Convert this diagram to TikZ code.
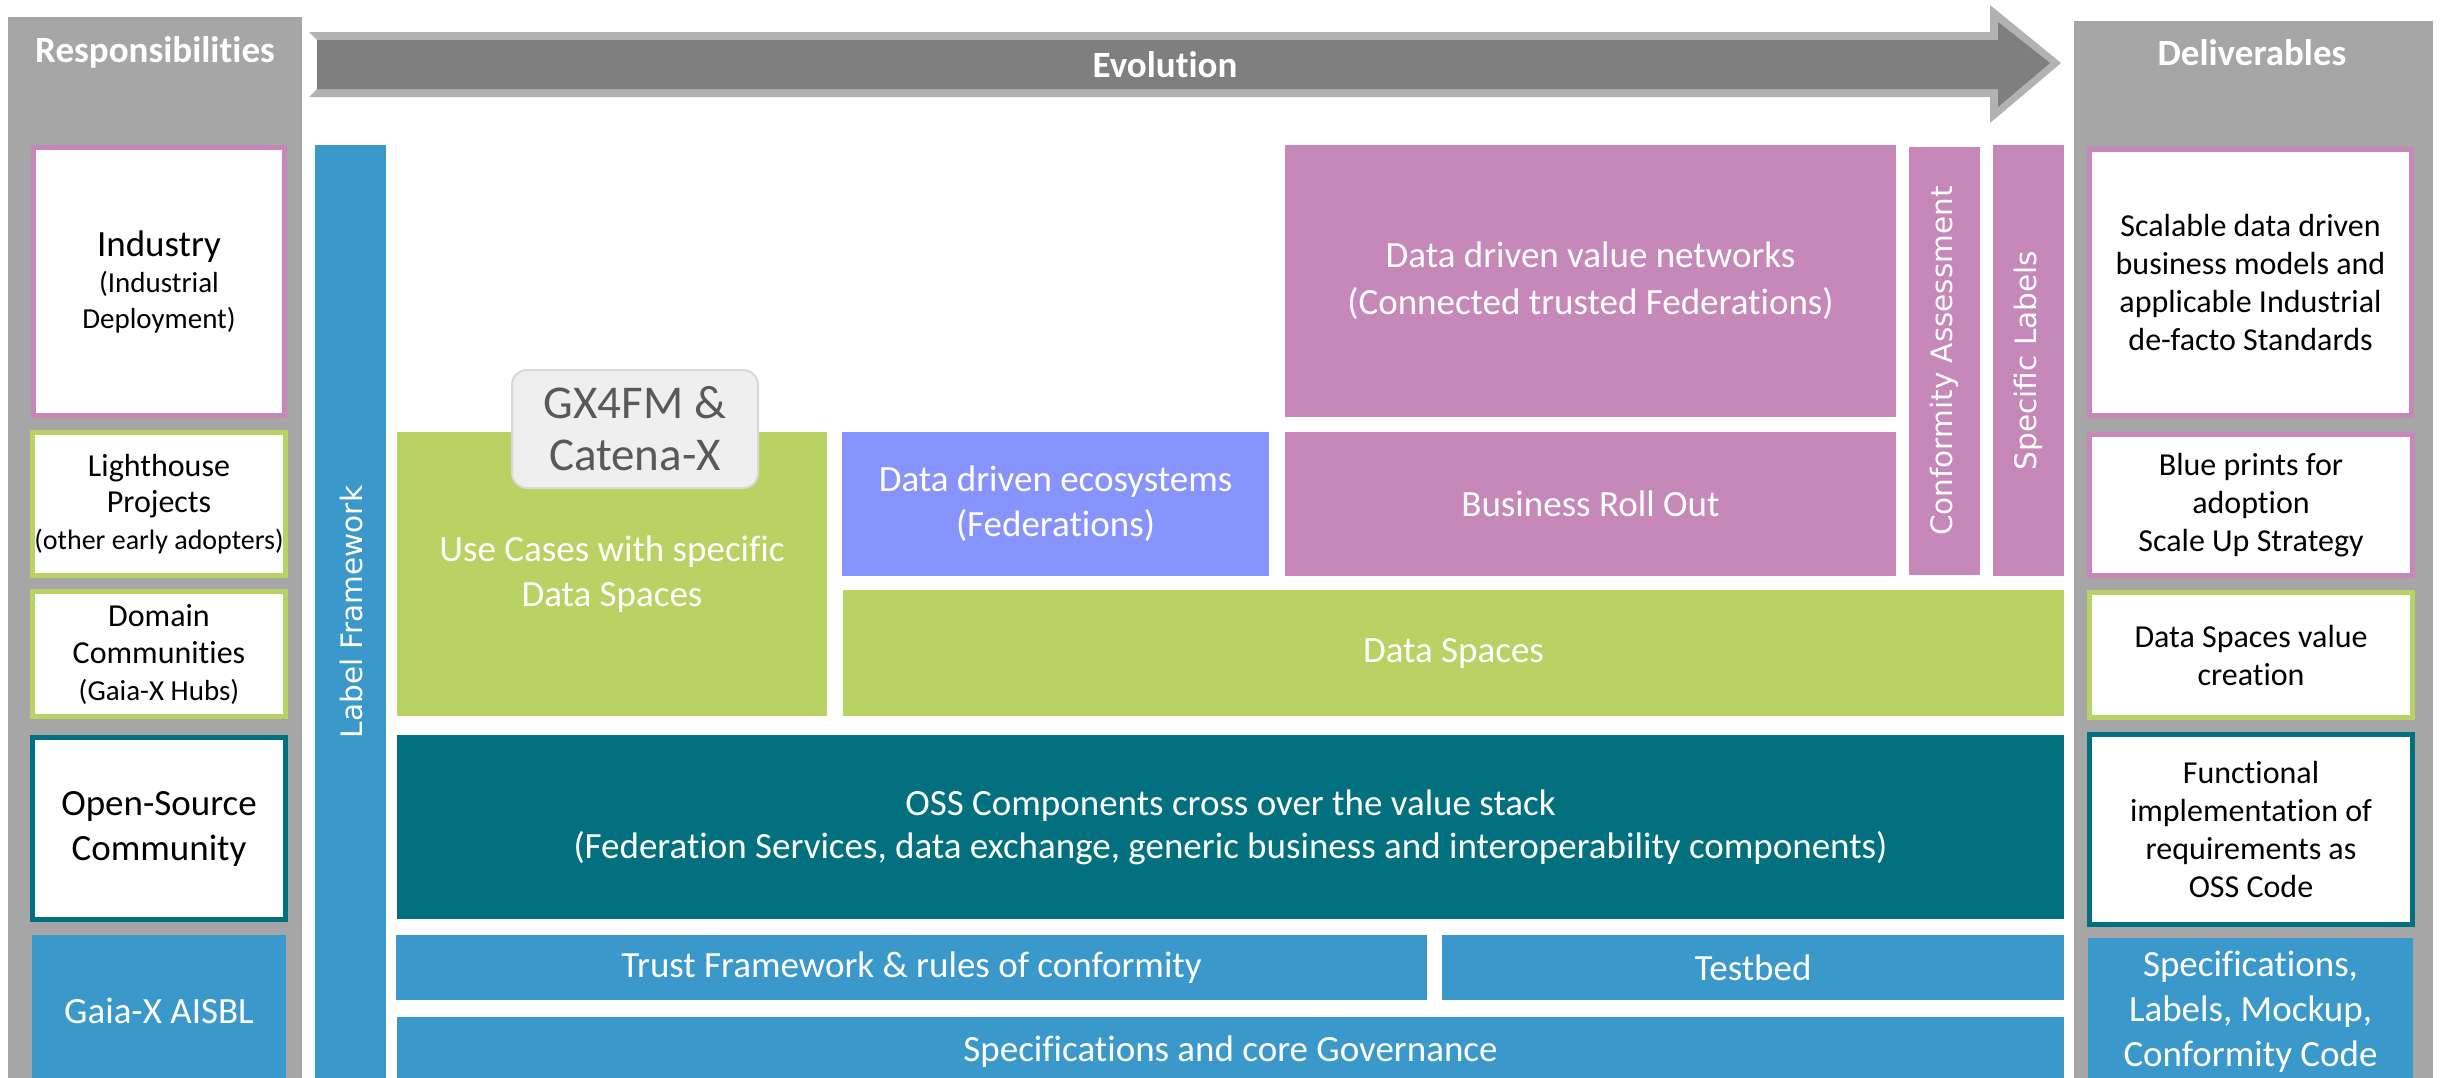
\documentclass[tikz,border=0pt]{standalone}
\usepackage{fontspec}
\setmainfont{Carlito}[Ligatures={NoCommon}]
\newfontfamily\rotfont{DejaVu Sans}
\definecolor{colgray}{HTML}{A6A6A6}
\definecolor{blueC}{HTML}{3B98CB}
\definecolor{greenC}{HTML}{B8D263}
\definecolor{pinkC}{HTML}{C688B8}
\definecolor{periC}{HTML}{8794FE}
\definecolor{tealC}{HTML}{02707E}
\definecolor{arrowlight}{HTML}{B2B2B2}
\definecolor{arrowdark}{HTML}{7F7F7F}
\definecolor{gxfill}{HTML}{EFEFEF}
\definecolor{gxdraw}{HTML}{D9D9D9}
\definecolor{gxtext}{HTML}{595959}
\newcommand\fs[2]{\fontsize{#1}{#2}\selectfont}
% name x1 y1 x2 y2 style text
\newcommand\blockbox[7]{%
  \node[#6, minimum width={(#4-#2)*1pt}, minimum height={(#5-#3)*1pt}] (#1) at ({(#2+#4)/2},{(#3+#5)/2}) {#7};}
\newcommand\edgebox[7]{%
  \node[#6, minimum width={(#4-#2-5)*1pt}, minimum height={(#5-#3-5)*1pt}] (#1) at ({(#2+#4)/2},{(#3+#5)/2}) {#7};}
\tikzset{
  fillbox/.style={fill=#1, draw=none, inner sep=0pt, outer sep=0pt, text=white, align=center, font=\fs{37}{45}},
  whitebox/.style={fill=white, draw=#1, line width=5pt, inner sep=0pt, outer sep=0pt, text=black, align=center},
  rottext/.style={rotate=90, text=white, inner sep=0pt, font=\rotfont\fs{29.5}{36}},
  headtext/.style={text=white, inner sep=0pt, font=\bfseries\fs{37}{45}},
}
\begin{document}
\begin{tikzpicture}[x=1pt,y=-1pt]
\useasboundingbox (0,0) rectangle (2440,1077);
\clip (0,0) rectangle (2440,1077);
\fill[white] (0,0) rectangle (2440,1077);

% gray columns
\blockbox{leftcol}{8}{17}{302}{1090}{fillbox=colgray}{}
\blockbox{rightcol}{2074}{21}{2433}{1090}{fillbox=colgray}{}
\node[headtext, anchor=base] (resp) at (155,62) {Responsibilities};
\node[headtext, anchor=base] (deliv) at (2252,65) {Deliverables};

% evolution arrow
\fill[arrowlight] (309,32) -- (1990,32) -- (1990,5) -- (2061,63) -- (1990,123) -- (1990,97) -- (309,97) -- (317,89) -- (317,40) -- cycle;
\fill[arrowdark] (317,40) -- (1998,40) -- (1998,22) -- (2050,63) -- (1998,107) -- (1998,89) -- (317,89) -- cycle;
\node[headtext] (evo) at (1165,65) {Evolution};

% left responsibility boxes
\edgebox{industry}{31}{145}{287}{418}{whitebox=pinkC, font=\fs{29}{36}}{\fs{37}{44}Industry\\(Industrial\\Deployment)}
\edgebox{lighthouse}{30}{430}{288}{578}{whitebox=greenC, font=\fs{32}{36.5}}{Lighthouse\\Projects\\\fs{28}{35}(other early adopters)}
\edgebox{domain}{30}{589}{288}{719}{whitebox=greenC, font=\fs{32}{37}}{Domain\\Communities\\\fs{29}{36}(Gaia-X Hubs)}
\edgebox{opensource}{30}{735}{288}{922}{whitebox=tealC, font=\fs{37}{45}}{Open-Source\\Community}
\blockbox{aisbl}{32}{935}{286}{1087}{fillbox=blueC}{Gaia-X AISBL}

% label framework bar
\blockbox{labelbar}{315}{145}{386}{1090}{fillbox=blueC}{}
\node[rottext] (labeltxt) at (351,612) {Label Framework};

% value stack
\blockbox{valuenet}{1285}{145}{1896}{417}{fillbox=pinkC, font=\fs{37}{47}}{Data driven value networks\\(Connected trusted Federations)}
\blockbox{conform}{1909}{147}{1980}{575}{fillbox=pinkC}{}
\node[rottext] (conformtxt) at (conform.center) {Conformity Assessment};
\blockbox{speclab}{1993}{145}{2064}{576}{fillbox=pinkC}{}
\node[rottext] (speclabtxt) at (speclab.center) {Specific Labels};
\blockbox{usecases}{397}{432}{827}{716}{fillbox=greenC}{Use Cases with specific\\Data Spaces}
\blockbox{ecosys}{842}{432}{1269}{576}{fillbox=periC}{Data driven ecosystems\\(Federations)}
\blockbox{rollout}{1285}{432}{1896}{576}{fillbox=pinkC}{Business Roll Out}
\blockbox{dataspaces}{843}{590}{2064}{716}{fillbox=greenC}{Data Spaces}
\blockbox{oss}{397}{735}{2064}{919}{fillbox=tealC, font=\fs{37}{43}}{OSS Components cross over the value stack\\(Federation Services, data exchange, generic business and interoperability components)}
\blockbox{trust}{396}{935}{1427}{1000}{fillbox=blueC}{Trust Framework \& rules of conformity}
\blockbox{testbed}{1442}{935}{2064}{1000}{fillbox=blueC}{Testbed}
\blockbox{speccore}{397}{1017}{2064}{1087}{fillbox=blueC}{Specifications and core Governance}

% GX4FM badge
\node[fill=gxfill, draw=gxdraw, line width=2pt, rounded corners=15pt, inner sep=0pt,
      minimum width=246pt, minimum height=118pt, text=gxtext, align=center, font=\fs{47}{52}]
      (gx) at (635,429) {GX4FM \&\\Catena-X};

% right deliverable boxes
\edgebox{scalable}{2087}{147}{2414}{418}{whitebox=pinkC, font=\fs{32}{38}}{Scalable data driven\\business models and\\applicable Industrial\\de-facto Standards}
\edgebox{blueprints}{2087}{432}{2415}{578}{whitebox=pinkC, font=\fs{32}{38}}{Blue prints for\\adoption\\Scale Up Strategy}
\edgebox{dsvalue}{2087}{590}{2415}{720}{whitebox=greenC, font=\fs{32}{38}}{Data Spaces value\\creation}
\edgebox{functional}{2087}{732}{2415}{927}{whitebox=tealC, font=\fs{32}{38}}{Functional\\implementation of\\requirements as\\OSS Code}
\blockbox{specdeliv}{2088}{938}{2413}{1085}{fillbox=blueC}{Specifications,\\Labels, Mockup,\\Conformity Code}
\end{tikzpicture}
\end{document}
